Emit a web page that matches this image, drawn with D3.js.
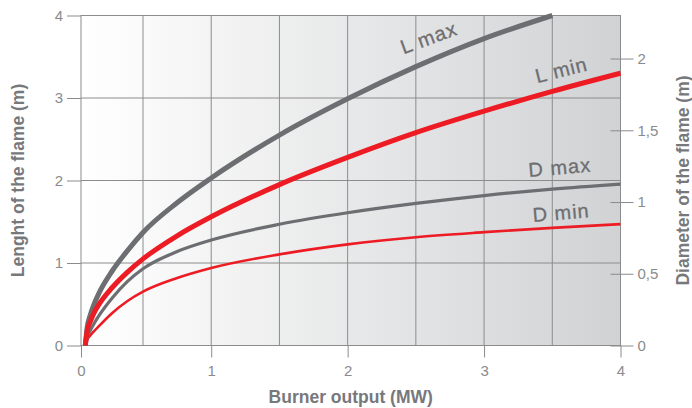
<!DOCTYPE html>
<html>
<head>
<meta charset="utf-8">
<script src="https://cdn.jsdelivr.net/npm/d3@7"></script>
<style>
    body { margin: 0; background: #fff; }
    svg { display: block; }
</style>
</head>
<body>
<svg id="chart"></svg>
<script>
// burner output in MW
const output = [0.035, 0.05, 0.075, 0.1, 0.15, 0.25, 0.375, 0.5, 0.75, 1, 1.5, 2, 2.5, 3, 3.5, 4]
// flame length (m), left axis (L max stops at 3.5 MW)
const lengthMax = [0, 0.22, 0.37, 0.48, 0.65, 0.90, 1.15, 1.37, 1.73, 2.03, 2.55, 2.99, 3.38, 3.72, 4.0]
const lengthMin = [0, 0.18, 0.29, 0.38, 0.51, 0.70, 0.89, 1.05, 1.33, 1.56, 1.95, 2.28, 2.58, 2.84, 3.08, 3.30]
// flame diameter (m), right axis
const diamMax = [0, 0.06, 0.105, 0.145, 0.215, 0.33, 0.447, 0.535, 0.655, 0.735, 0.845, 0.925, 0.99, 1.045, 1.09, 1.125]
const diamMin = [0, 0.04, 0.07, 0.095, 0.14, 0.225, 0.31, 0.375, 0.47, 0.54, 0.635, 0.705, 0.755, 0.79, 0.82, 0.846]

const xTicks = [0, 1, 2, 3, 4]
const xGrid = [0.5, 1, 1.5, 2, 2.5, 3, 3.5, 4]
const yLeftTicks = [0, 1, 2, 3, 4]
const yRightTicks = [0, 0.5, 1, 1.5, 2]

let config = {
    width: 692,
    height: 408,
    colors: {
        gray: "#6d6e71",
        red: "#ed1c24",
        grid: "#8c8c8c",
        tick: "#8a8b8d",
        title: "#77787b"
    }
}

const svg = d3.select("svg#chart")
    .attr("width", config.width)
    .attr("height", config.height)

// hand drawn original: the first half step is a little narrower
const x = d3.scaleLinear().domain([0, 0.5, 4]).range([81, 143, 620.5])
const yL = d3.scaleLinear().domain([0, 4]).range([345.5, 15.5])
const yR = d3.scaleLinear().domain([0, 2.3]).range([345.5, 15.5])

// background gradient
const defs = svg.append("defs")
const grad = defs.append("linearGradient").attr("id", "bg")
    .attr("x1", "0%").attr("x2", "100%").attr("y1", "0%").attr("y2", "0%")
grad.append("stop").attr("offset", "0%").attr("stop-color", "#ffffff")
grad.append("stop").attr("offset", "100%").attr("stop-color", "#d1d2d4")

svg.append("rect")
    .attr("x", x(0)).attr("y", yL(4))
    .attr("width", x(4) - x(0)).attr("height", yL(0) - yL(4))
    .style("fill", "url(#bg)")

// grid
const grid = svg.append("g")
grid.selectAll("line.v").data(xGrid).join("line")
    .attr("x1", d => x(d)).attr("x2", d => x(d))
    .attr("y1", yL(0)).attr("y2", yL(4))
    .style("stroke", config.colors.grid).style("stroke-width", 1)
grid.selectAll("line.h").data(yLeftTicks.slice(1)).join("line")
    .attr("x1", x(0)).attr("x2", x(4))
    .attr("y1", d => yL(d)).attr("y2", d => yL(d))
    .style("stroke", config.colors.grid).style("stroke-width", 1)

// axes
const styleAxis = function (g) {
    g.select(".domain").remove()
    g.selectAll(".tick line").style("stroke", config.colors.tick).style("stroke-width", 1)
    g.selectAll(".tick text")
        .style("fill", config.colors.tick)
        .style("font-family", "Liberation Sans, Arial, sans-serif")
        .style("font-size", "15px")
}

svg.append("g")
    .attr("transform", `translate(${x(0)},0)`)
    .call(d3.axisLeft(yL).tickValues(yLeftTicks).tickSize(14).tickPadding(4).tickFormat(d3.format("d")))
    .call(styleAxis)

svg.append("g")
    .attr("transform", `translate(0,${yL(0)})`)
    .call(d3.axisBottom(x).tickValues(xTicks).tickSize(12).tickPadding(8).tickFormat(d3.format("d")))
    .call(styleAxis)

const comma = d3.formatLocale({ decimal: ",", thousands: ".", grouping: [3], currency: ["", ""] })
svg.append("g")
    .attr("transform", `translate(${x(4) - 10},0)`)
    .call(d3.axisRight(yR).tickValues(yRightTicks).tickSize(23).tickPadding(4).tickFormat(comma.format(".1~f")))
    .call(styleAxis)

// frame
svg.append("rect")
    .attr("x", x(0)).attr("y", yL(4))
    .attr("width", x(4) - x(0)).attr("height", yL(0) - yL(4))
    .style("fill", "none")
    .style("stroke", config.colors.grid).style("stroke-width", 1)

// curves
const series = [
    { values: diamMin, y: yR, color: config.colors.red, width: 2.6 },
    { values: diamMax, y: yR, color: config.colors.gray, width: 3.2 },
    { values: lengthMax, y: yL, color: config.colors.gray, width: 5 },
    { values: lengthMin, y: yL, color: config.colors.red, width: 5 },
]
series.forEach(s => {
    const line = d3.line()
        .x((d, i) => x(output[i]))
        .y(d => s.y(d))
        .curve(d3.curveMonotoneX)
    svg.append("path")
        .datum(s.values)
        .attr("d", line)
        .style("fill", "none")
        .style("stroke", s.color)
        .style("stroke-width", s.width)
})

// curve labels
const labels = [
    { text: "L max", x: 2.41, y: yL(3.53), angle: -20 },
    { text: "L min", x: 3.39, y: yL(3.18), angle: -14 },
    { text: "D max", x: 3.33, y: yR(1.174), angle: -5 },
    { text: "D min", x: 3.36, y: yR(0.86), angle: -5 },
]
svg.selectAll("text.curve").data(labels).join("text")
    .attr("class", "curve")
    .attr("transform", d => `translate(${x(d.x)},${d.y}) rotate(${d.angle})`)
    .text(d => d.text)
    .style("fill", config.colors.gray)
    .style("stroke", config.colors.gray)
    .style("stroke-width", 0.3)
    .style("font-family", "Liberation Sans, Arial, sans-serif")
    .style("font-size", "20px")
    .style("letter-spacing", "1px")

// axis titles
const titleStyle = function (t) {
    t.style("fill", config.colors.title)
        .style("font-family", "Liberation Sans, Arial, sans-serif")
        .style("font-size", "17.5px")
        .style("font-weight", "bold")
        .attr("text-anchor", "middle")
}
svg.append("text")
    .attr("x", (x(0) + x(4)) / 2).attr("y", 403)
    .text("Burner output (MW)")
    .call(titleStyle)
svg.append("text")
    .attr("transform", `translate(24,${(yL(0) + yL(4)) / 2}) rotate(-90)`)
    .text("Lenght of the flame (m)")
    .call(titleStyle)
svg.append("text")
    .attr("transform", `translate(689,${(yL(0) + yL(4)) / 2}) rotate(-90)`)
    .text("Diameter of the flame (m)")
    .call(titleStyle)
</script>
</body>
</html>
